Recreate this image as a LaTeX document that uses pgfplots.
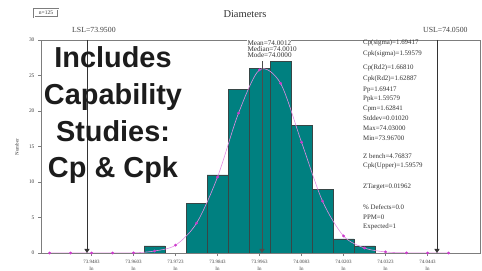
\documentclass[border=0pt]{standalone}
\usepackage{fontspec}
\setmainfont{Liberation Serif}
\newfontfamily\boldsans{Liberation Sans}
\usepackage{pgfplots}
\pgfplotsset{compat=1.18}
\usetikzlibrary{arrows.meta}
\definecolor{barteal}{RGB}{0,128,128}
\definecolor{baredge}{RGB}{55,70,70}
\definecolor{axgray}{RGB}{125,125,125}
\definecolor{curveline}{RGB}{228,140,228}
\definecolor{curvedot}{RGB}{205,60,205}
\definecolor{overlay}{RGB}{28,28,28}
\begin{document}
\begin{tikzpicture}
\path[use as bounding box] (0,0) rectangle (482bp,271bp);
\begin{axis}[
  at={(41bp,18bp)}, anchor=south west,
  scale only axis, width=439bp, height=213bp,
  xmin=73.93686, xmax=74.06229, ymin=0, ymax=30,
  axis line style={draw=axgray, line width=0.6pt},
  tick pos=left, tick align=outside, major tick length=3bp,
  tick style={draw=axgray, line width=0.5pt},
  ytick={0,5,10,15,20,25,30},
  /pgf/number format/assume math mode=true,
  yticklabel style={font=\fontsize{5.5}{6}\selectfont, text=black!75},
  xtick={73.9513,73.9633,73.9753,73.9873,73.9993,74.0113,74.0233,74.0353,74.0473},
  xticklabels={{73.9483\\In},{73.9603\\In},{73.9723\\In},{73.9843\\In},{73.9963\\In},{74.0083\\In},{74.0203\\In},{74.0323\\In},{74.0443\\In}},
  xticklabel style={font=\fontsize{5}{7}\selectfont, align=center, text=black!75, yshift=-1bp},
  scaled x ticks=false,
]
\addplot[ybar interval, fill=barteal, draw=baredge, line width=0.6pt] coordinates {
  (73.9663,1) (73.9723,0) (73.9783,7) (73.9843,11) (73.9903,23) (73.9963,26)
  (74.0023,27) (74.0083,18) (74.0143,9) (74.0203,2) (74.0263,1) (74.0323,1)
};
\addplot[smooth, tension=0.5, draw=curveline, line width=0.6pt,
  mark=*, mark size=1.1pt, mark options={fill=curvedot, draw=curvedot}] coordinates {
  (73.9393,0) (73.9453,0) (73.9513,0) (73.9573,0) (73.9633,0.02) (73.9693,0.28)
  (73.9753,1.1) (73.9813,4.2) (73.9873,10.7) (73.9933,19.7) (73.9993,25.8)
  (74.0053,23.9) (74.0113,15.6) (74.0173,7.3) (74.0233,2.4) (74.0293,0.7)
  (74.0353,0.15) (74.0413,0.02) (74.0473,0) (74.0533,0)
};
\draw[black!80, line width=0.5pt, -{Triangle[length=4bp,width=5bp]}] (axis cs:73.95,30) -- (axis cs:73.95,0);
\draw[black!80, line width=0.5pt, -{Triangle[length=4bp,width=5bp]}] (axis cs:74.05,30) -- (axis cs:74.05,0);
\draw[black!70, line width=0.5pt, -{Triangle[length=4bp,width=5bp]}] (axis cs:74.0000,27) -- (axis cs:74.0000,0);
\end{axis}
% mean / median / mode
\node[anchor=west, fill=white, inner sep=0.3bp, font=\fontsize{7.2}{7}\selectfont, text=black!80] at (247bp,228bp) {Mean=74.0012};
\node[anchor=west, fill=white, inner sep=0.3bp, font=\fontsize{7.2}{7}\selectfont, text=black!80] at (247bp,222bp) {Median=74.0010};
\node[anchor=west, fill=white, inner sep=0.3bp, font=\fontsize{7.2}{7}\selectfont, text=black!80] at (247bp,216bp) {Mode=74.0000};
% title and header texts
\node[font=\fontsize{10.5}{12}\selectfont, text=black!80] at (245bp,257bp) {Diameters};
\node[draw=axgray, double, double distance=0.5bp, inner sep=1.2bp, minimum width=24bp, minimum height=8bp, font=\fontsize{5.5}{6}\selectfont, text=black!80] at (46bp,258bp) {n=125};
\node[anchor=west, inner sep=0pt, font=\fontsize{7.8}{8}\selectfont, text=black!75] at (72bp,241bp) {LSL=73.9500};
\node[anchor=west, inner sep=0pt, font=\fontsize{7.8}{8}\selectfont, text=black!75] at (423bp,241bp) {USL=74.0500};
\node[rotate=90, font=\fontsize{5}{6}\selectfont, text=black!80] at (17bp,124bp) {Number};
% statistics block
\begin{scope}[every node/.style={anchor=west, inner sep=0pt, font=\fontsize{6.9}{7}\selectfont, text=black!80}]
\node at (363bp,228bp) {Cp(sigma)=1.69417};
\node at (363bp,217bp) {Cpk(sigma)=1.59579};
\node at (363bp,203bp) {Cp(Rd2)=1.66810};
\node at (363bp,192bp) {Cpk(Rd2)=1.62887};
\node at (363bp,181bp) {Pp=1.69417};
\node at (363bp,172bp) {Ppk=1.59579};
\node at (363bp,162bp) {Cpm=1.62841};
\node at (363bp,153bp) {Stddev=0.01020};
\node at (363bp,143bp) {Max=74.03000};
\node at (363bp,133bp) {Min=73.96700};
\node at (363bp,115bp) {Z bench=4.76837};
\node at (363bp,105bp) {Cpk(Upper)=1.59579};
\node at (363bp,84bp) {ZTarget=0.01962};
\node at (363bp,64bp) {\% Defects=0.0};
\node at (363bp,54bp) {PPM=0};
\node at (363bp,44bp) {Expected=1};
\end{scope}
% overlay caption
\begin{scope}[every node/.style={anchor=base, inner sep=0pt, font=\boldsans\bfseries\fontsize{29}{36}\selectfont, text=overlay}]
\node at (113bp,203bp) {Includes};
\node at (113bp,166bp) {Capability};
\node at (113bp,129bp) {Studies:};
\node at (113bp,93bp) {Cp \& Cpk};
\end{scope}
\end{tikzpicture}
\end{document}
